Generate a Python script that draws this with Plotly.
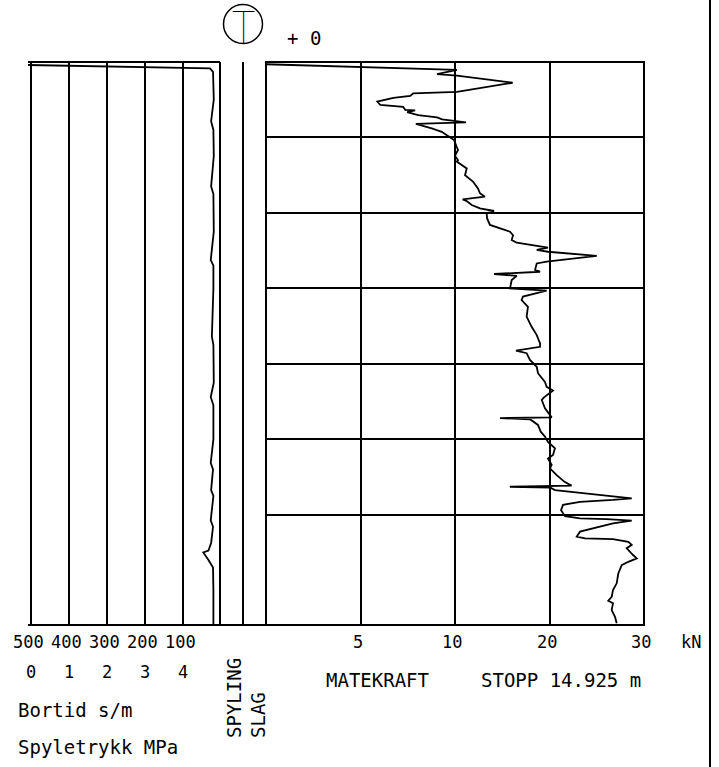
import numpy as np
import plotly.graph_objects as go

W, H = 719, 767

# ---- data -------------------------------------------------------------
# Matekraft (kN) against depth (m)
mk_depth = [0.06, 0.21, 0.32, 0.36, 0.55, 0.79, 0.83, 0.90, 0.95, 1.05, 1.14, 1.19, 1.27, 1.28,
            1.33, 1.41, 1.47, 1.52, 1.60, 1.64, 1.76, 1.85, 1.96, 2.07, 2.25, 2.33, 2.49, 2.60,
            2.64, 2.82, 3.00, 3.17, 3.35, 3.48, 3.57, 3.64, 3.68, 3.79, 3.88, 3.95, 4.01, 4.14,
            4.32, 4.41, 4.50, 4.59, 4.72, 4.79, 4.85, 4.92, 4.98, 5.03, 5.14, 5.29, 5.34, 5.51,
            5.56, 5.62, 5.67, 5.78, 6.00, 6.06, 6.22, 6.31, 6.49, 6.75, 7.02, 7.24, 7.46, 7.55,
            7.65, 7.72, 7.90, 8.08, 8.25, 8.48, 8.61, 8.71, 8.89, 8.96, 9.18, 9.30, 9.42, 9.44,
            9.47, 9.62, 9.80, 9.93, 10.07, 10.24, 10.42, 10.51, 10.68, 10.77, 10.95, 11.13,
            11.23, 11.26, 11.28, 11.35, 11.42, 11.48, 11.57, 11.61, 11.66, 11.74, 11.88, 12.04,
            12.10, 12.12, 12.16, 12.23, 12.34, 12.45, 12.58, 12.63, 12.65, 12.72, 12.80, 12.89,
            13.07, 13.16, 13.25, 13.34, 13.56, 13.82, 14.00, 14.18, 14.28, 14.35, 14.53, 14.71,
            14.88]
mk_kn = [0.0, 10.2, 9.05, 10.2, 16.1, 10.2, 7.79, 7.63, 6.74, 5.89, 6.05, 7.26, 7.37, 7.89,
         7.47, 8.05, 9.05, 9.32, 11.16, 7.93, 8.77, 9.30, 9.63, 9.95, 10.18, 10.32, 10.0, 10.32,
         10.18, 11.24, 11.06, 11.9, 12.43, 12.64, 13.17, 10.81, 11.2, 11.77, 12.64, 14.13, 13.35,
         13.39, 13.70, 14.76, 15.82, 16.14, 16.0, 16.53, 18.25, 19.84, 18.65, 19.84, 25.0,
         19.70, 18.65, 18.47, 19.0, 14.13, 16.53, 16.0, 15.82, 19.70, 17.19, 17.05, 17.72,
         17.58, 18.11, 18.65, 19.0, 19.0, 16.45, 17.58, 17.93, 18.65, 18.78, 19.52, 19.70,
         20.37, 19.42, 19.18, 19.52, 19.84, 20.23, 14.76, 17.93, 18.78, 19.07, 19.52, 19.84,
         20.58, 20.37, 19.84, 20.23, 20.05, 20.76, 21.59, 22.33, 15.8, 20.05, 20.58, 23.23,
         26.05, 28.7, 26.72, 23.23, 21.43, 21.22, 21.64, 23.23, 26.05, 28.7, 26.72, 24.99,
         23.23, 22.88, 23.76, 26.72, 28.34, 28.7, 28.17, 28.84, 29.23, 28.34, 27.64, 27.28,
         27.11, 26.72, 26.58, 26.22, 26.72, 26.58, 26.93, 27.11]

# Bortid (s/m) against depth (m)
bt_depth = [0.08, 0.17, 0.26, 0.6, 1.0, 1.57, 1.8, 2.5, 3.3, 3.5, 4.5, 5.25, 5.4, 6.0, 7.28,
            7.5, 8.5, 8.88, 9.1, 10.0, 10.63, 10.8, 11.35, 11.5, 12.15, 12.32, 12.75, 12.95,
            13.0, 13.2, 13.4, 14.0, 14.92]
bt_sm = [508, 29, 21, 20, 19, 26, 20, 19, 26, 20, 19, 27, 20, 20, 24, 20, 19, 27, 20, 20,
         27, 21, 26, 20, 27, 21, 26, 33, 46.6, 33, 21, 20, 20]

kn_ticks = [0, 5, 10, 20, 30]
kn_tick_labels = ["5", "10", "20", "30"]
bortid_ticks = [500, 400, 300, 200, 100]
bortid_labels = ["500", "400", "300", "200", "100"]
mpa_labels = ["0", "1", "2", "3", "4"]
depth_grid = [2, 4, 6, 8, 10, 12]
stop_depth = 14.925

# ---- helpers ----------------------------------------------------------
def px(x):
    return x / W


def py(y):
    return 1 - y / H


kn_axis = np.arange(len(kn_ticks))          # piecewise scale 0..4
mk_pos = np.interp(mk_kn, kn_ticks, kn_axis)

FONT = "DejaVu Sans Mono"
FS = 19
NFS = 17
BLACK = "#000000"

fig = go.Figure()
fig.add_trace(go.Scatter(x=bt_sm, y=bt_depth, mode="lines", xaxis="x", yaxis="y",
                         line=dict(color=BLACK, width=1.8), hoverinfo="skip", showlegend=False))
fig.add_trace(go.Scatter(x=mk_pos, y=mk_depth, mode="lines", xaxis="x2", yaxis="y2",
                         line=dict(color=BLACK, width=1.8), hoverinfo="skip", showlegend=False))

ydom = [py(625), py(62)]
fig.update_layout(
    width=W, height=H, margin=dict(l=0, r=0, t=0, b=0),
    paper_bgcolor="white", plot_bgcolor="white", showlegend=False,
    xaxis=dict(domain=[px(28), px(221)], range=[508, 0], tickvals=bortid_ticks,
               showticklabels=False, ticks="", showgrid=True, gridcolor=BLACK, gridwidth=2,
               zeroline=False, showline=False, anchor="y", fixedrange=True),
    yaxis=dict(domain=ydom, range=[stop_depth, 0], showgrid=False, showticklabels=False,
               ticks="", zeroline=False, showline=False, anchor="x", fixedrange=True),
    xaxis2=dict(domain=[px(266), px(644)], range=[0, 4], tickvals=list(kn_axis[1:4]),
                showticklabels=False, ticks="", showgrid=True, gridcolor=BLACK, gridwidth=2,
                zeroline=False, showline=False, anchor="y2", fixedrange=True),
    yaxis2=dict(domain=ydom, range=[stop_depth, 0], tickvals=depth_grid, showgrid=True,
                gridcolor=BLACK, gridwidth=2, showticklabels=False, ticks="", zeroline=False,
                showline=False, anchor="x2", fixedrange=True),
)

lw = 2
shapes = [
    dict(type="rect", xref="x2 domain", yref="y2 domain", x0=0, x1=1, y0=0, y1=1,
         line=dict(color=BLACK, width=lw)),
    dict(type="line", xref="paper", yref="paper", x0=px(28), x1=px(220), y0=py(62), y1=py(62),
         line=dict(color=BLACK, width=lw)),
    dict(type="line", xref="paper", yref="paper", x0=px(220), x1=px(220), y0=py(62), y1=py(625),
         line=dict(color=BLACK, width=lw)),
    dict(type="line", xref="paper", yref="paper", x0=px(28), x1=px(644), y0=py(625), y1=py(625),
         line=dict(color=BLACK, width=lw)),
    dict(type="line", xref="paper", yref="paper", x0=px(243), x1=px(243), y0=py(62), y1=py(625),
         line=dict(color=BLACK, width=lw)),
    dict(type="line", xref="paper", yref="paper", x0=px(710), x1=px(710), y0=0, y1=1,
         line=dict(color=BLACK, width=lw)),
    dict(type="circle", xref="paper", yref="paper", x0=px(223.5), x1=px(262.5),
         y0=py(43.5), y1=py(4.5), line=dict(color=BLACK, width=1.5)),
]
fig.update_layout(shapes=shapes)

ann = []


def text(t, x, y, xref="paper", xanchor="center", size=FS, angle=0, xshift=0,
         yanchor="middle", family=FONT):
    ann.append(dict(text=t, x=x, y=y, xref=xref, yref="paper", xanchor=xanchor,
                    yanchor=yanchor, showarrow=False, textangle=angle, xshift=xshift,
                    font=dict(family=family, size=size, color=BLACK)))


ann.append(dict(text="T", x=px(243), y=py(27), xref="paper", yref="paper", showarrow=False,
                xanchor="center", yanchor="middle",
                font=dict(family="Inter", size=44, color=BLACK, weight=100)))
text("+ 0", px(304), py(38))

for v, lab in zip(bortid_ticks, bortid_labels):
    text(lab, v, py(642), xref="x", xshift=-3, size=NFS)
for v, lab in zip(bortid_ticks, mpa_labels):
    text(lab, v, py(672), xref="x", size=NFS)
text("Bortid s/m", px(16), py(710), xanchor="left")
text("Spyletrykk MPa", px(16), py(747), xanchor="left")

text("SPYLING", px(234), py(740), angle=-90, yanchor="bottom")
text("SLAG", px(258), py(740), angle=-90, yanchor="bottom")

for v, lab in zip(kn_axis[1:], kn_tick_labels):
    ann.append(dict(text=lab, x=v, y=py(642), xref="x2", yref="paper", showarrow=False,
                    xanchor="center", yanchor="middle", xshift=-3,
                    font=dict(family=FONT, size=NFS, color=BLACK)))
text("kN", px(691), py(642), size=NFS)
text("MATEKRAFT", px(378), py(680))
text("STOPP 14.925 m", px(561), py(680))

fig.update_layout(annotations=ann)
fig.write_html("out.html")
